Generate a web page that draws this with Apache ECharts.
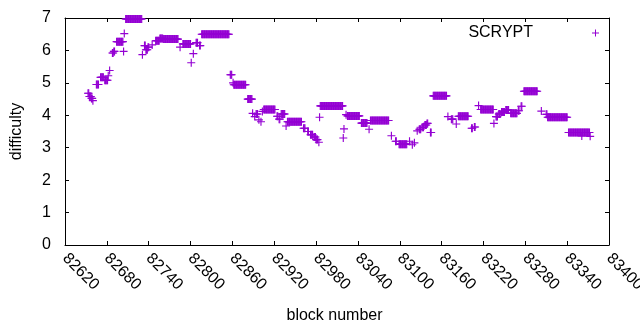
<!DOCTYPE html>
<html><head><meta charset="utf-8">
<script src="https://cdn.jsdelivr.net/npm/echarts@6/dist/echarts.min.js"></script>
<style>html,body{margin:0;padding:0;background:#fff}#c{width:640px;height:330px}</style>
</head><body><div id="c"></div>
<script>
// Axis setup
const xMin = 82620, xMax = 83400, xStep = 60;
const yMin = 0, yMax = 7, yStep = 1;
const seriesName = 'SCRYPT';
const xTitle = 'block number';
const yTitle = 'difficulty';

// Difficulty, as runs of consecutive blocks with the same value
const runStart = [82653,82655,82658,82660,82665,82671,82677,82682,82684,82688,82690,82694,82704,82705,82707,82731,82734,82736,82739,82745,82750,82756,82761,82785,82789,82801,82804,82808,82813,82816,82857,82861,82862,82882,82889,82892,82894,82898,82901,82903,82905,82924,82927,82930,82937,82939,82962,82968,82972,82977,82980,82984,82985,82986,83019,83020,83023,83025,83045,83056,83058,83088,83094,83099,83114,83118,83121,83125,83128,83132,83136,83139,83144,83148,83169,83174,83181,83184,83203,83207,83213,83216,83235,83238,83242,83246,83252,83259,83270,83274,83278,83303,83310,83312,83342,83361,83373];
const runEnd   = [82654,82657,82659,82660,82668,82675,82681,82682,82684,82689,82691,82703,82704,82705,82730,82731,82735,82738,82740,82745,82755,82760,82782,82785,82800,82801,82804,82810,82814,82855,82859,82861,82879,82888,82889,82892,82896,82898,82901,82903,82921,82925,82928,82935,82937,82959,82964,82969,82975,82979,82982,82984,82985,83018,83019,83020,83023,83042,83053,83056,83084,83088,83095,83110,83114,83118,83121,83125,83130,83134,83138,83140,83145,83167,83169,83176,83181,83198,83204,83208,83213,83234,83235,83240,83244,83250,83256,83268,83271,83275,83297,83303,83311,83340,83372,83361,83373];
const runValue = [4.68,4.58,4.52,4.45,4.95,5.17,5.08,5.22,5.38,5.92,5.97,6.27,5.97,6.52,6.97,5.87,6.15,6.02,6.1,6.17,6.3,6.37,6.35,6.1,6.2,5.62,5.9,6.24,6.15,6.5,5.25,5.0,4.94,4.5,4.06,3.96,4.04,3.86,3.8,4.12,4.18,3.97,3.88,4.04,3.67,3.8,3.6,3.5,3.4,3.33,3.25,3.17,3.94,4.29,3.3,3.58,4.02,3.98,3.76,3.57,3.84,3.37,3.2,3.11,3.2,3.09,3.15,3.52,3.57,3.63,3.7,3.75,3.47,4.6,3.96,3.88,3.73,3.97,3.6,3.64,4.3,4.18,3.75,3.96,4.04,4.1,4.16,4.06,4.14,4.28,4.74,4.13,4.03,3.94,3.47,3.36,3.35];

const points = [];
for (let i = 0; i < runStart.length; i++) {
  for (let b = runStart[i]; b <= runEnd[i]; b++) points.push([b, runValue[i]]);
}

const purple = '#9400D3';
const plus = 'path://M3,0h1v3h3v1h-3v3h-1v-3h-3v-1h3z';
const font = 'Liberation Sans, Arial, sans-serif';
const chart = echarts.init(document.getElementById('c'), null, {renderer: 'canvas'});
const axisCommon = {
  axisLine: {show: true, onZero: false, lineStyle: {color: '#000', width: 1}},
  axisTick: {show: true, inside: true, length: 4, lineStyle: {color: '#000'}},
  splitLine: {show: false}
};
chart.setOption({
  animation: false,
  backgroundColor: '#fff',
  textStyle: {fontFamily: font},
  grid: {left: 65, right: 31, top: 18, bottom: 85, containLabel: false, outerBoundsMode: 'none'},
  legend: {
    data: [{name: seriesName, icon: plus}],
    right: 36, top: 20, align: 'right',
    itemWidth: 7, itemHeight: 7,
    textStyle: {fontFamily: font, fontSize: 16, color: '#000', padding: [0, 54, 0, 0]}
  },
  xAxis: [
    Object.assign({}, axisCommon, {
      type: 'value', position: 'bottom', min: xMin, max: xMax, interval: xStep,
      name: xTitle, nameLocation: 'middle', nameGap: 63,
      nameTextStyle: {fontFamily: font, fontSize: 16, color: '#000', padding: [0, 5, 0, 0]},
      axisLabel: {rotate: -45, margin: 11, fontFamily: font, fontSize: 16, color: '#000',
        showMaxLabel: true, showMinLabel: true, formatter: v => String(v)}
    }),
    Object.assign({}, axisCommon, {
      type: 'value', position: 'top', min: xMin, max: xMax, interval: xStep,
      axisLabel: {show: false}
    })
  ],
  yAxis: [
    Object.assign({}, axisCommon, {
      type: 'value', position: 'left', min: yMin, max: yMax, interval: yStep,
      name: yTitle, nameLocation: 'middle', nameGap: 40,
      nameTextStyle: {fontFamily: font, fontSize: 16, color: '#000'},
      axisLabel: {margin: 14, fontFamily: font, fontSize: 16, color: '#000'}
    }),
    Object.assign({}, axisCommon, {
      type: 'value', position: 'right', min: yMin, max: yMax, interval: yStep,
      axisLabel: {show: false}
    })
  ],
  series: [{
    name: seriesName, type: 'scatter', xAxisIndex: 0, yAxisIndex: 0,
    symbol: plus, symbolSize: 8, clip: false,
    itemStyle: {color: purple, opacity: 1},
    data: points
  }]
});
</script></body></html>
